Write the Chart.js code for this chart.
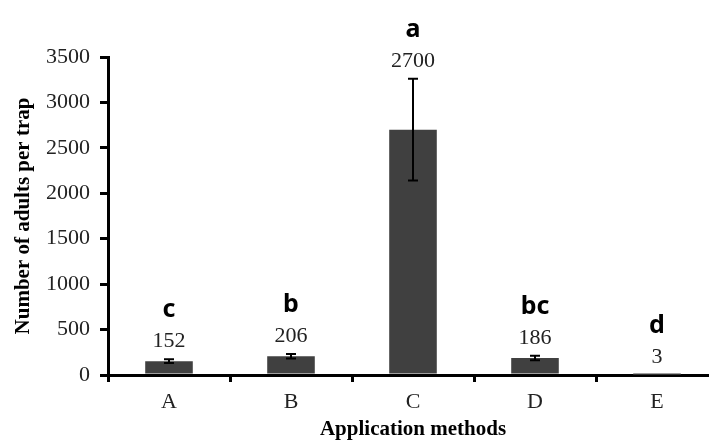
<!DOCTYPE html>
<html>
<head>
<meta charset="utf-8">
<script src="https://cdn.jsdelivr.net/npm/chart.js@4"></script>
<style>
  html, body { margin: 0; padding: 0; background: #fff; overflow: hidden; }
  #wrap { width: 709px; height: 440px; overflow: hidden; }
</style>
</head>
<body>
<div id="wrap"><canvas id="chart" width="720" height="440"></canvas></div>
<script>
// data
const methods = ["A", "B", "C", "D", "E"];
const meanAdults = [152, 206, 2700, 186, 3];
const errAdults = [20, 25, 560, 25, 0];
const valueLabels = ["152", "206", "2700", "186", "3"];
const groupLetters = ["c", "b", "a", "bc", "d"];

const serif = "'Liberation Serif', 'Times New Roman', serif";

// error bars + value labels + significance letters
const annotate = {
  id: "annotate",
  afterDatasetsDraw(chart) {
    const { ctx, scales: { x, y } } = chart;
    ctx.save();
    methods.forEach((m, i) => {
      const cx = x.getPixelForValue(i);
      const top = meanAdults[i] + errAdults[i];
      if (errAdults[i] > 0) {
        const yt = y.getPixelForValue(top);
        const yb = y.getPixelForValue(meanAdults[i] - errAdults[i]);
        ctx.strokeStyle = "#000";
        ctx.lineWidth = 2;
        ctx.beginPath();
        ctx.moveTo(cx, yt); ctx.lineTo(cx, yb);
        ctx.moveTo(cx - 5, yt); ctx.lineTo(cx + 5, yt);
        ctx.moveTo(cx - 5, yb); ctx.lineTo(cx + 5, yb);
        ctx.stroke();
      }
      const numY = y.getPixelForValue(top) - 18;
      ctx.fillStyle = "#222";
      ctx.textAlign = "center";
      ctx.textBaseline = "middle";
      ctx.font = "22px " + serif;
      ctx.fillText(valueLabels[i], cx, numY);
      ctx.fillStyle = "#000";
      ctx.font = "bold 25px 'Noto Sans', sans-serif";
      ctx.fillText(groupLetters[i], cx, numY - 31);
    });
    ctx.restore();
  }
};

new Chart(document.getElementById("chart"), {
  type: "bar",
  data: {
    labels: methods,
    datasets: [{
      data: meanAdults,
      backgroundColor: "#404040",
      barPercentage: 0.39,
      categoryPercentage: 1
    }]
  },
  options: {
    responsive: false,
    animation: false,
    devicePixelRatio: 1,
    layout: { padding: { top: 57, right: 2, left: 0, bottom: 0 } },
    plugins: { legend: { display: false }, tooltip: { enabled: false } },
    scales: {
      x: {
        afterFit: (s) => { s.height = 65; },
        grid: { drawOnChartArea: false, offset: true, tickLength: 7, color: "#000", lineWidth: 3 },
        border: { display: true, color: "#000", width: 3 },
        ticks: { color: "#222", padding: 7, font: { family: serif, size: 22 } },
        title: {
          display: true,
          text: "Application methods",
          color: "#000",
          padding: { top: 0, bottom: 0 },
          font: { family: serif, size: 21, weight: "bold", lineHeight: 1 }
        }
      },
      y: {
        min: 0,
        max: 3500,
        afterFit: (s) => { s.width = 108; },
        grid: { drawOnChartArea: false, tickLength: 8, color: "#000", lineWidth: 3 },
        border: { display: true, color: "#000", width: 3 },
        ticks: {
          stepSize: 500,
          color: "#222",
          padding: 10,
          font: { family: serif, size: 22 },
          callback: (v) => String(v)
        },
        title: {
          display: true,
          text: "Number of adults per trap",
          color: "#000",
          padding: { top: 13, bottom: 0 },
          font: { family: serif, size: 21, weight: "bold", lineHeight: 1 }
        }
      }
    }
  },
  plugins: [annotate]
});
</script>
</body>
</html>
